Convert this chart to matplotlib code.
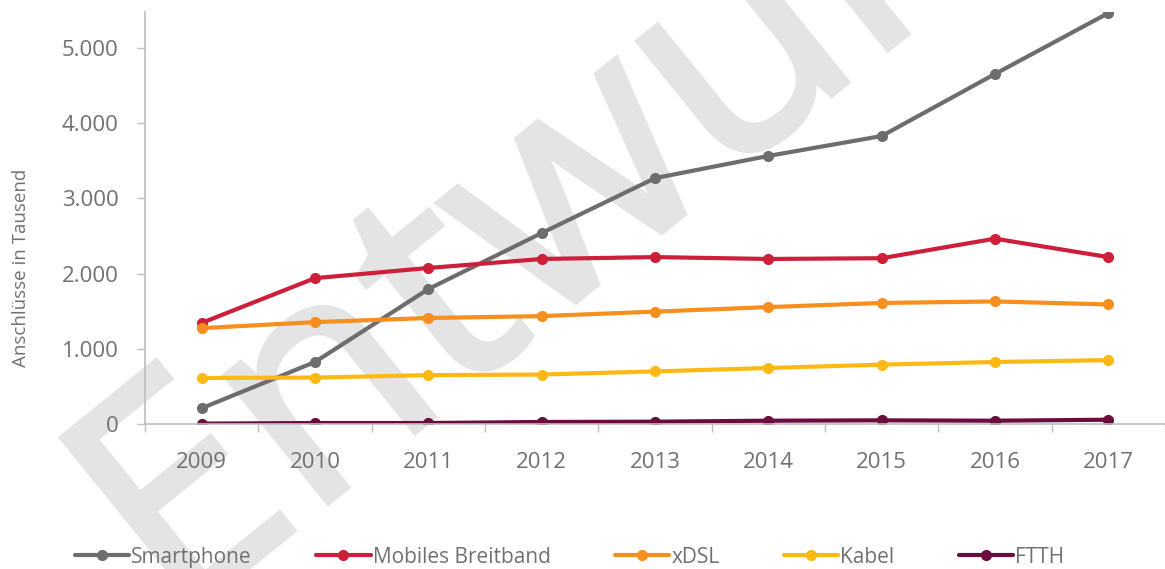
import matplotlib.pyplot as plt
import matplotlib.patheffects as pe
from matplotlib.ticker import FuncFormatter

years = ['2009', '2010', '2011', '2012', '2013', '2014', '2015', '2016', '2017']
smartphone = [210, 825, 1795, 2540, 3270, 3565, 3830, 4655, 5465]
mobiles_breitband = [1345, 1940, 2075, 2195, 2220, 2195, 2205, 2465, 2220]
xdsl = [1275, 1355, 1410, 1435, 1495, 1555, 1610, 1630, 1590]
kabel = [612, 618, 650, 658, 700, 745, 790, 825, 850]
ftth = [5, 13, 13, 27, 31, 44, 49, 44, 57]

series = [
    ('Smartphone', smartphone, '#6d6d6d'),
    ('Mobiles Breitband', mobiles_breitband, '#cd1f3a'),
    ('xDSL', xdsl, '#f68f1e'),
    ('Kabel', kabel, '#fdb913'),
    ('FTTH', ftth, '#6a0c3c'),
]

plt.rcParams['font.family'] = ['Open Sans', 'DejaVu Sans']
text_grey = '#707070'
axis_grey = '#bdbdbd'
wm_grey = '#e4e4e4'

fig = plt.figure(figsize=(11.65, 5.69), dpi=100)
ax = fig.add_axes([0.1245, 0.2548, 0.8755, 0.7242])
ax.set_facecolor('none')

# watermark behind the chart
fig.text(0.151, -0.10, 'Entwurf', rotation=39, rotation_mode='anchor',
         ha='left', va='baseline', fontsize=220, color=wm_grey, zorder=-10,
         path_effects=[pe.withStroke(linewidth=4, foreground=wm_grey, joinstyle='miter')])

x = list(range(len(years)))
for name, vals, col in series:
    ax.plot(x, vals, color=col, lw=3, marker='o', ms=7, label=name,
            solid_capstyle='round')

ax.set_xlim(-0.5, 8.48)
ax.set_ylim(0, 5480)
ax.set_yticks([0, 1000, 2000, 3000, 4000, 5000])
ax.yaxis.set_major_formatter(FuncFormatter(lambda v, p: f'{int(v):,}'.replace(',', '.')))

ax.set_xticks([i - 0.5 for i in range(len(years) + 1)])
ax.set_xticklabels([])
ax.set_xticks(x, minor=True)
ax.set_xticklabels(years, minor=True)
ax.tick_params(axis='x', which='minor', length=0, pad=20, labelsize=16, labelcolor=text_grey)
ax.tick_params(axis='x', which='major', length=6, width=1, color=axis_grey, direction='out')
ax.tick_params(axis='y', length=6, width=1, color=axis_grey, pad=13, labelsize=16,
               labelcolor=text_grey)

for s in ['top', 'right']:
    ax.spines[s].set_visible(False)
for s in ['left', 'bottom']:
    ax.spines[s].set_color(axis_grey)
    ax.spines[s].set_linewidth(1.2)

ax.set_ylabel('Anschlüsse in Tausend', fontsize=13.5, color=text_grey)
ax.yaxis.set_label_coords(-0.113, 0.38)

fig.legend(loc='center', bbox_to_anchor=(0.489, 0.021), ncol=5, frameon=False,
           fontsize=15, handlelength=2.6, handletextpad=0.1, columnspacing=3.1,
           labelcolor=text_grey)

fig.savefig('out.png', dpi=100)
